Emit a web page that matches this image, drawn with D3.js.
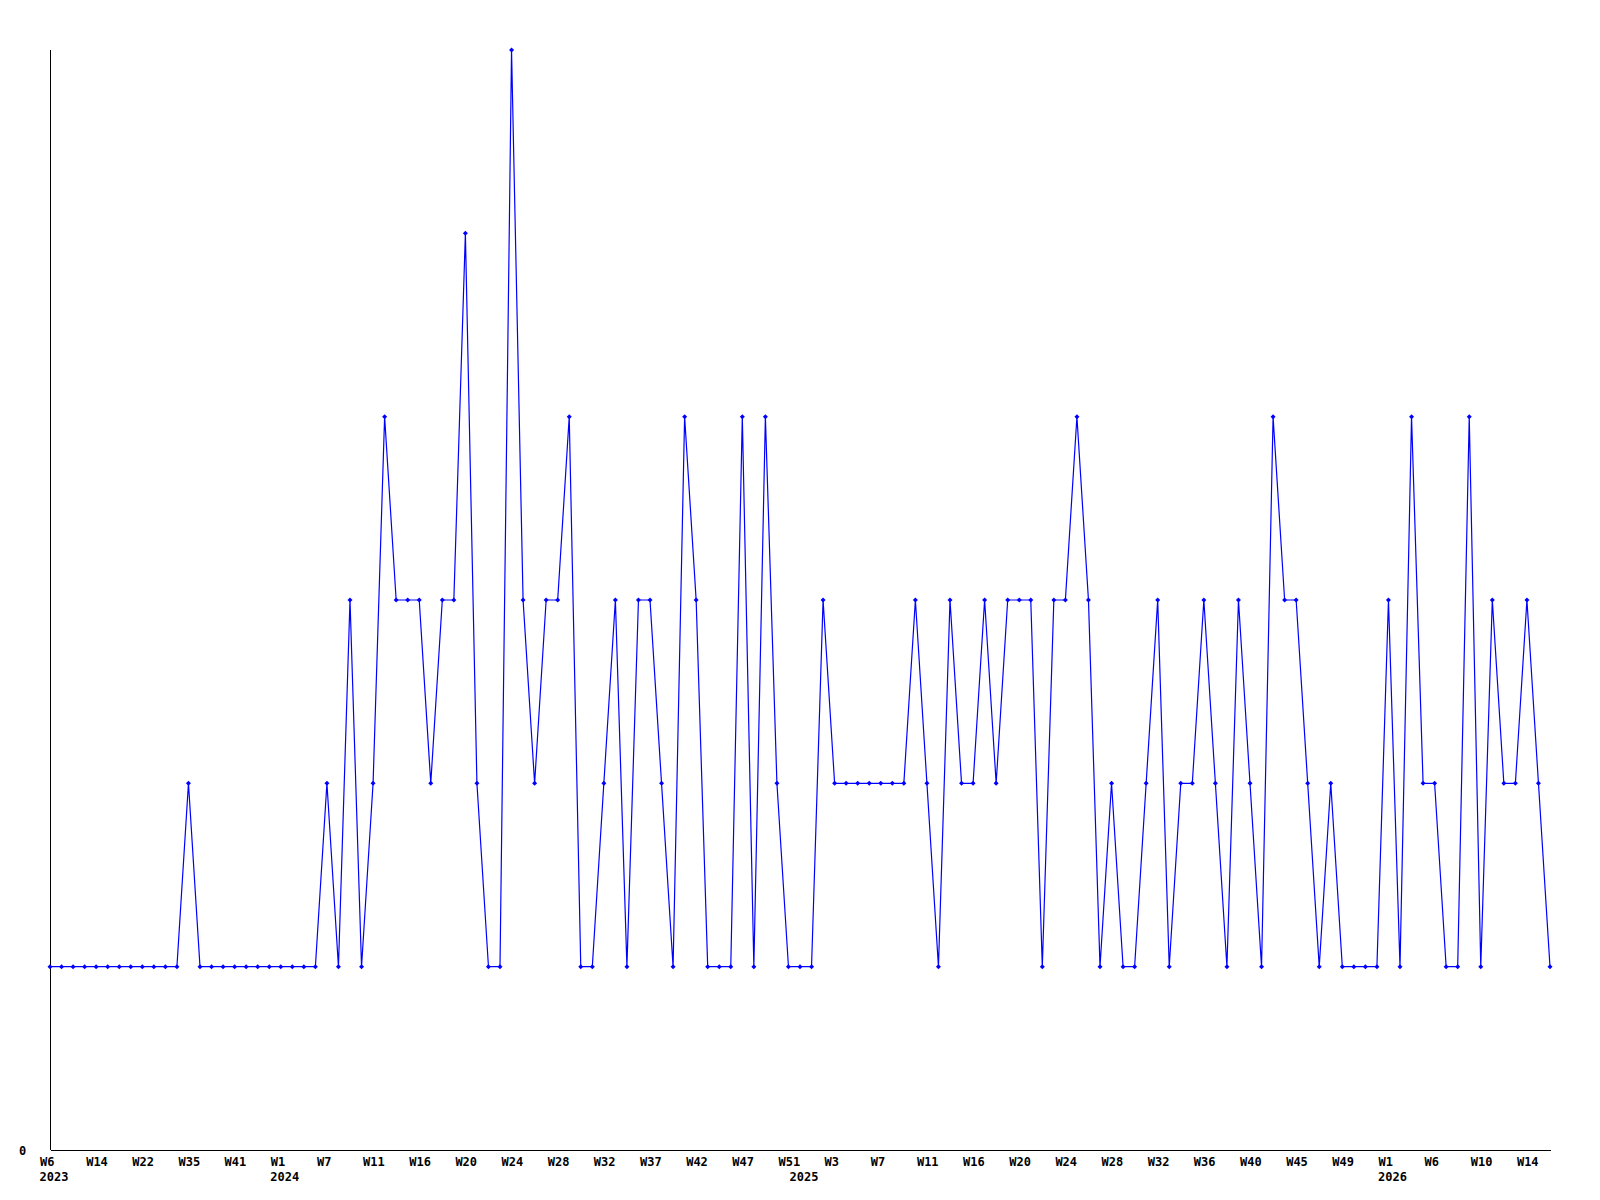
<!DOCTYPE html>
<html>
<head>
<meta charset="utf-8">
<script src="https://cdn.jsdelivr.net/npm/d3@7"></script>
<style>
  body { margin: 0; background: #fff; }
  .chart text { font-family: "DejaVu Sans Mono", monospace; font-weight: bold; font-size: 12px; fill: #000; }
</style>
</head>
<body>
<div class="chart"></div>
<script>
// weekly counts, one point per reported week (W6 2023 .. W15 2026)
var counts = [
  1, 1, 1, 1, 1, 1, 1, 1, 1, 1, 1, 1, 2, 1, 1, 1, 1, 1, 1, 1,
  1, 1, 1, 1, 2, 1, 3, 1, 2, 4, 3, 3, 3, 2, 3, 3, 5, 2, 1, 1,
  6, 3, 2, 3, 3, 4, 1, 1, 2, 3, 1, 3, 3, 2, 1, 4, 3, 1, 1, 1,
  4, 1, 4, 2, 1, 1, 1, 3, 2, 2, 2, 2, 2, 2, 2, 3, 2, 1, 3, 2,
  2, 3, 2, 3, 3, 3, 1, 3, 3, 4, 3, 1, 2, 1, 1, 2, 3, 1, 2, 2,
  3, 2, 1, 3, 2, 1, 4, 3, 3, 2, 1, 2, 1, 1, 1, 1, 3, 1, 4, 2,
  2, 1, 1, 4, 1, 3, 2, 2, 3, 2, 1
];

// a week label every 4th point
var tickEvery = 4;
var tickWeeks = ['W6', 'W14', 'W22', 'W35', 'W41', 'W1', 'W7', 'W11', 'W16', 'W20', 'W24',
  'W28', 'W32', 'W37', 'W42', 'W47', 'W51', 'W3', 'W7', 'W11', 'W16', 'W20', 'W24',
  'W28', 'W32', 'W36', 'W40', 'W45', 'W49', 'W1', 'W6', 'W10', 'W14'];
// year labels sit under the first point of each year
var years = ['2023', '2024', '2025', '2026'];
var yearStart = [0, 20, 65, 116];
var yTicks = [0];

var margin = { top: 50, right: 50, bottom: 50, left: 50 };
var width = 1600 - margin.left - margin.right;
var height = 1200 - margin.top - margin.bottom;

var svg = d3.select('.chart')
  .append('svg')
    .attr('width', 1600)
    .attr('height', 1200)
  .append('g')
    .attr('transform', 'translate(' + margin.left + ', ' + margin.top + ')');

var xScale = d3.scaleLinear()
  .domain([0, counts.length - 1])
  .range([0, width]);

var yScale = d3.scaleLinear()
  .domain([0, 6])
  .range([height, 0]);

// axes
var xAxis = d3.axisBottom(xScale)
  .tickValues(tickWeeks.map((d, i) => i * tickEvery))
  .tickSize(0)
  .tickFormat((d, i) => tickWeeks[i]);

var gx = svg.append('g')
  .attr('transform', `translate(0, ${height})`)
  .call(xAxis);
gx.select('.domain')
  .attr('d', 'M0.5,0.5H' + (width + 1))
  .attr('stroke', '#000')
  .attr('shape-rendering', 'crispEdges');
gx.selectAll('.tick text')
  .attr('font-family', null)
  .attr('font-size', null)
  .attr('text-anchor', 'start')
  .attr('x', -10.5)
  .attr('y', 16)
  .attr('dy', null);

gx.selectAll('.year')
  .data(years)
  .enter()
  .append('text')
    .attr('class', 'year')
    .attr('text-anchor', 'start')
    .attr('x', (d, i) => xScale(yearStart[i]) - 10.5)
    .attr('y', 31)
    .text(d => d);

var yAxis = d3.axisLeft(yScale)
  .tickValues(yTicks)
  .tickSize(0)
  .tickFormat(d3.format('d'));

var gy = svg.append('g')
  .call(yAxis);
gy.select('.domain')
  .attr('d', 'M0.5,0V' + height)
  .attr('stroke', '#000')
  .attr('shape-rendering', 'crispEdges');
gy.selectAll('.tick text')
  .attr('font-family', null)
  .attr('font-size', null)
  .attr('text-anchor', 'middle')
  .attr('x', -27.5)
  .attr('y', 4.5)
  .attr('dy', null);

// line + markers
var line = d3.line()
  .x((d, i) => xScale(i))
  .y(d => yScale(d));

svg.append('path')
  .datum(counts)
  .attr('d', line)
  .attr('fill', 'none')
  .attr('stroke', '#0000ff')
  .attr('stroke-width', 1.2);

svg.selectAll('.dot')
  .data(counts)
  .enter()
  .append('path')
    .attr('class', 'dot')
    .attr('transform', (d, i) => `translate(${xScale(i)}, ${yScale(d)})`)
    .attr('d', 'M-2.5,0L0,-2.5L2.5,0L0,2.5Z')
    .attr('fill', '#0000ff');
</script>
</body>
</html>
